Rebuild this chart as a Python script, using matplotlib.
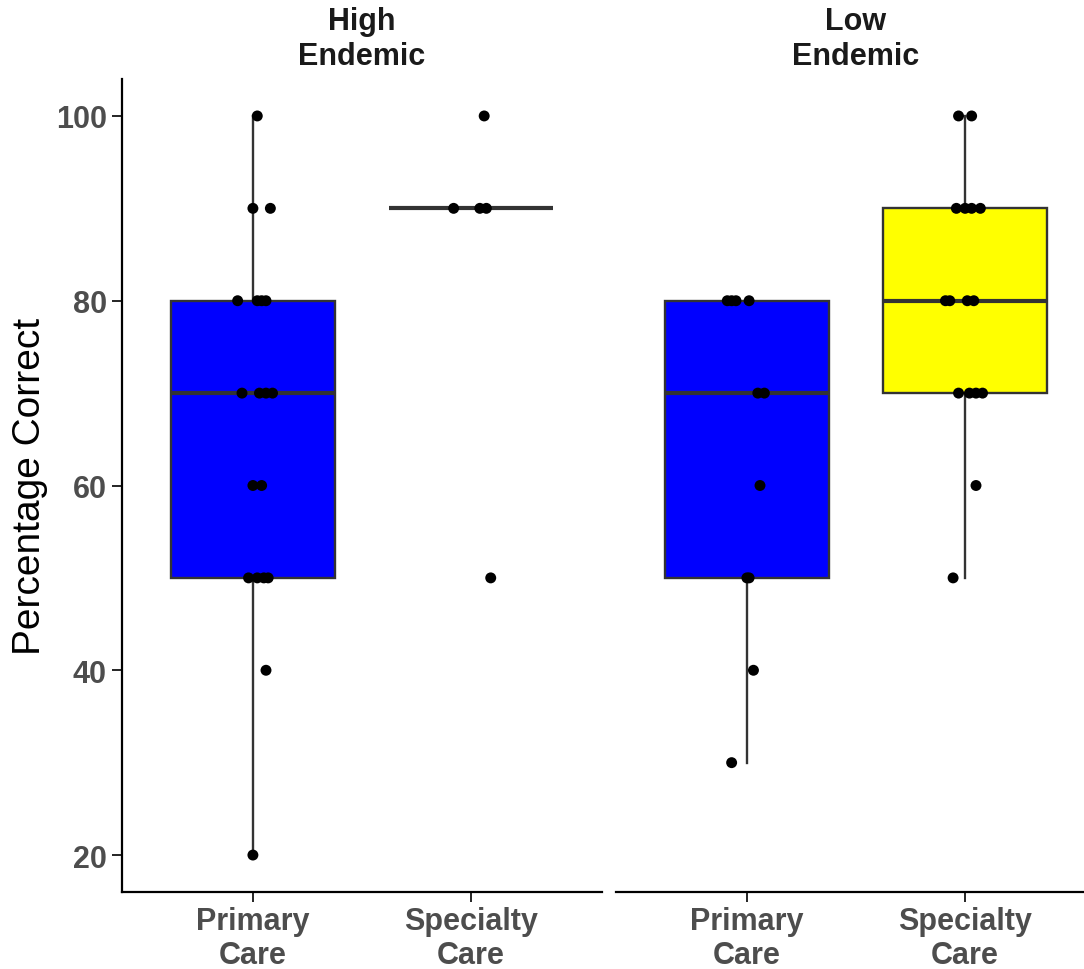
import matplotlib.pyplot as plt

plt.rcParams['font.family'] = ['Liberation Sans', 'DejaVu Sans']

# --- dane ---
panels = ["High\nEndemic", "Low\nEndemic"]
care_labels = ["Primary\nCare", "Specialty\nCare"]

he_primary = [100, 90, 90, 80, 80, 80, 80, 70, 70, 70, 70, 60, 60, 50, 50, 50, 50, 40, 20]
he_primary_jit = [0.02, 0.00, 0.08, -0.07, 0.02, 0.04, 0.06, -0.05, 0.03, 0.06, 0.09,
                  0.00, 0.04, -0.02, 0.02, 0.05, 0.07, 0.06, 0.00]
he_specialty = [100, 90, 90, 90, 50]
he_specialty_jit = [0.06, -0.08, 0.04, 0.07, 0.09]

le_primary = [80, 80, 80, 80, 70, 70, 60, 50, 50, 40, 30]
le_primary_jit = [-0.09, -0.07, -0.05, 0.01, 0.05, 0.08, 0.06, 0.00, 0.01, 0.03, -0.07]
le_specialty = [100, 100, 90, 90, 90, 90, 80, 80, 80, 80, 70, 70, 70, 70, 60, 50]
le_specialty_jit = [-0.03, 0.03, -0.04, 0.00, 0.03, 0.07, -0.09, -0.07, 0.01, 0.04,
                    -0.03, 0.02, 0.05, 0.08, 0.05, -0.055]

groups = [
    [(he_primary, he_primary_jit), (he_specialty, he_specialty_jit)],
    [(le_primary, le_primary_jit), (le_specialty, le_specialty_jit)],
]
fills = ["#0000FF", "#FFFF00"]

W, H = 1084, 970
fig = plt.figure(figsize=(W / 100, H / 100), dpi=100)

# pozycje paneli w pikselach
panel_left = [122, 616]
panel_w = 480
top, bottom = 80, 893

tick_color = "#4D4D4D"
box_color = "#333333"

axes = []
for i, name in enumerate(panels):
    ax = fig.add_axes([panel_left[i] / W, (H - bottom) / H, panel_w / W, (bottom - top) / H])
    axes.append(ax)
    data = [g[0] for g in groups[i]]
    bp = ax.boxplot(data, positions=[0, 1], widths=0.75, patch_artist=True,
                    showfliers=False, showcaps=False, whis=1.5,
                    boxprops=dict(edgecolor=box_color, linewidth=1.7),
                    whiskerprops=dict(color=box_color, linewidth=1.7),
                    medianprops=dict(color=box_color, linewidth=3.0, solid_capstyle='butt'),
                    zorder=2)
    for patch, fc in zip(bp['boxes'], fills):
        patch.set_facecolor(fc)

    for j, (vals, jit) in enumerate(groups[i]):
        xs = [j + d for d in jit]
        ax.scatter(xs, vals, s=62, color="black", edgecolors="none", zorder=5)

    ax.set_xlim(-0.6, 1.6)
    ax.set_ylim(16, 104)
    ax.set_xticks([0, 1])
    ax.set_xticklabels(care_labels, fontsize=22, fontweight="bold", color=tick_color,
                       linespacing=1.2)
    ax.tick_params(axis="x", length=7, width=1.2, pad=3)
    ax.set_yticks([20, 40, 60, 80, 100])
    ax.tick_params(axis="y", length=7, width=1.2, pad=4, labelsize=22, labelcolor=tick_color)
    for lab in ax.get_yticklabels():
        lab.set_fontweight("bold")

    for side in ["top", "right"]:
        ax.spines[side].set_visible(False)
    ax.spines["bottom"].set_linewidth(1.6)
    ax.spines["left"].set_linewidth(1.6)
    if i == 1:
        ax.spines["left"].set_visible(False)
        ax.tick_params(axis="y", left=False, labelleft=False)

    ax.text(0.5, 1.01, name, transform=ax.transAxes, ha="center", va="bottom",
            fontsize=22, fontweight="bold", color="#1A1A1A", linespacing=1.2)

fig.text(30 / W, (H - (top + bottom) / 2) / H, "Percentage Correct", rotation=90,
         ha="center", va="center", fontsize=28)

fig.savefig("out.png", dpi=100)
